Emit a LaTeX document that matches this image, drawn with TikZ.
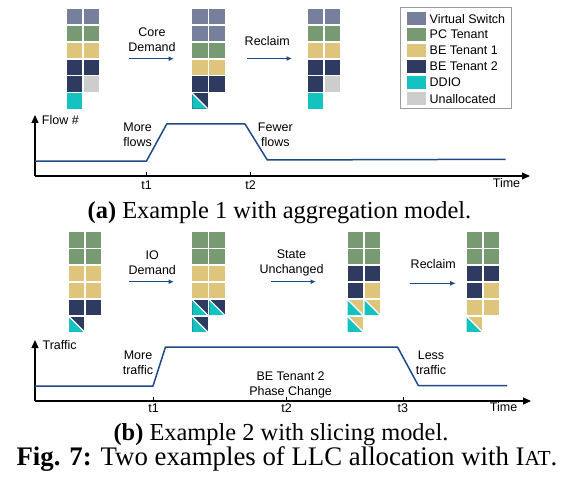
\documentclass[tikz,border=0pt]{standalone}
\usepackage{fontspec}
\setmainfont{Liberation Serif}
\setsansfont{Liberation Sans}
\usetikzlibrary{arrows.meta}
\definecolor{vs}{HTML}{767F9C}
\definecolor{pc}{HTML}{789A72}
\definecolor{beone}{HTML}{DFC57B}
\definecolor{betwo}{HTML}{2E3A5F}
\definecolor{ddio}{HTML}{14C3C0}
\definecolor{unal}{HTML}{CDCDCD}
\definecolor{curveblue}{HTML}{1E4A87}
\definecolor{legborder}{HTML}{9A9A9A}
\newcommand\cellC[3]{\fill[#3] ({#1*17},{#2*16.85}) rectangle ++(15.3,15.3);}
\newcommand\cellT[3]{\fill[#3] ({#1*17},{#2*16.85}) rectangle ++(15.3,15.3);
  \fill[ddio] ({#1*17},{#2*16.85}) -- ++(0,15.3) -- ++(15.3,0) -- cycle;
  \draw[white,line width=1.2pt] ({#1*17},{#2*16.85}) -- ++(15.3,15.3);}
\tikzset{
  lbl/.style={font=\sffamily\fontsize{12.5}{15}\selectfont, inner sep=0pt, align=center},
  captext/.style={font=\fontsize{24.4}{28}\selectfont, inner sep=0pt},
  figtext/.style={font=\fontsize{26.8}{30}\selectfont, inner sep=0pt},
  flowarrow/.style={curveblue, line width=1.3pt, -{Latex[length=5.5pt,width=5pt]}},
  axisline/.style={black, line width=1.2pt, -{Triangle[length=8pt,width=7pt]}},
  curveline/.style={curveblue, line width=1.5pt, line join=round},
  tickline/.style={black, line width=0.6pt},
  legbox/.style={draw=legborder, line width=0.8pt},
}
\begin{document}
\begin{tikzpicture}[x=1pt,y=-1pt]
\useasboundingbox (0,0) rectangle (562,484);
% ---------------- (a) stacks
\begin{scope}[shift={(66.7,9)}]
\cellC00{vs}\cellC10{vs}
\cellC01{pc}\cellC11{pc}
\cellC02{beone}\cellC12{beone}
\cellC03{betwo}\cellC13{betwo}
\cellC04{betwo}\cellC14{unal}
\cellC05{ddio}
\end{scope}
\begin{scope}[shift={(192.3,9)}]
\cellC00{vs}\cellC10{vs}
\cellC01{vs}\cellC11{vs}
\cellC02{pc}\cellC12{pc}
\cellC03{beone}\cellC13{beone}
\cellC04{betwo}\cellC14{betwo}
\cellT05{betwo}
\end{scope}
\begin{scope}[shift={(307.7,9)}]
\cellC00{vs}\cellC10{vs}
\cellC01{pc}\cellC11{pc}
\cellC02{beone}\cellC12{beone}
\cellC03{betwo}\cellC13{betwo}
\cellC04{betwo}\cellC14{unal}
\cellC05{ddio}
\end{scope}
% arrows (a)
\coordinate (a1s) at (129,58.7); \coordinate (a1e) at (174,58.7);
\coordinate (a2s) at (247,58.5); \coordinate (a2e) at (292,58.5);
\draw[flowarrow] (a1s) -- (a1e);
\draw[flowarrow] (a2s) -- (a2e);
\node[lbl] (coredemand) at (152,39.7) {Core\\Demand};
\node[lbl] (reclaima) at (267.3,41.3) {Reclaim};
% legend
\draw[legbox] (400,7) rectangle (511.7,108);
\foreach \c/\t [count=\i from 0] in {vs/Virtual Switch,pc/PC Tenant,beone/BE Tenant 1,betwo/BE Tenant 2,ddio/DDIO,unal/Unallocated}{
  \fill[\c] (407.3,{11.7+16*\i}) rectangle ++(18.4,13.8);
  \node[lbl,anchor=west] (leg\i) at (429.5,{18.6+16*\i}) {\t};
}
% graph (a)
\coordinate (oa) at (35,176);
\coordinate (ya) at (35,115);
\coordinate (xa) at (530,176);
\draw[axisline] (oa) -- (ya);
\draw[axisline] (oa) -- (xa);
\draw[curveline] (35,161) -- (146.5,161) -- (166.7,124) -- (245,124) -- (267.3,160) -- (505.7,159.3);
\coordinate (t1a) at (146.7,176); \coordinate (t2a) at (250.7,176);
\draw[tickline] (t1a) -- ++(0,-4.5);
\draw[tickline] (t2a) -- ++(0,-4.5);
\node[lbl] (t1la) at (146.7,185) {t1};
\node[lbl] (t2la) at (250.7,185) {t2};
\node[lbl] (timea) at (506.5,183) {Time};
\node[lbl,anchor=west] (flowno) at (41.7,120) {Flow \#};
\node[lbl] (moreflows) at (137.6,135) {More\\flows};
\node[lbl] (fewerflows) at (275.3,135) {Fewer\\flows};
\node[captext] (capa) at (279.5,213) {\textbf{(a)} Example 1 with aggregation model.};
% ---------------- (b) stacks
\begin{scope}[shift={(69,232.3)}]
\cellC00{pc}\cellC10{pc}
\cellC01{pc}\cellC11{pc}
\cellC02{beone}\cellC12{beone}
\cellC03{beone}\cellC13{beone}
\cellC04{betwo}\cellC14{betwo}
\cellT05{betwo}
\end{scope}
\begin{scope}[shift={(192.3,232.3)}]
\cellC00{pc}\cellC10{pc}
\cellC01{pc}\cellC11{pc}
\cellC02{beone}\cellC12{beone}
\cellC03{beone}\cellC13{beone}
\cellT04{betwo}\cellT14{betwo}
\cellT05{betwo}
\end{scope}
\begin{scope}[shift={(347.7,232.3)}]
\cellC00{pc}\cellC10{pc}
\cellC01{pc}\cellC11{pc}
\cellC02{betwo}\cellC12{betwo}
\cellC03{betwo}\cellC13{beone}
\cellT04{beone}\cellT14{beone}
\cellT05{beone}
\end{scope}
\begin{scope}[shift={(466.7,232.3)}]
\cellC00{pc}\cellC10{pc}
\cellC01{pc}\cellC11{pc}
\cellC02{betwo}\cellC12{betwo}
\cellC03{betwo}\cellC13{beone}
\cellC04{beone}\cellC14{beone}
\cellT05{beone}
\end{scope}
% arrows (b)
\coordinate (b1s) at (129,281.7); \coordinate (b1e) at (174,281.7);
\coordinate (b2s) at (271,281.7); \coordinate (b2e) at (316,281.7);
\coordinate (b3s) at (410,283.3); \coordinate (b3e) at (455.7,283.3);
\draw[flowarrow] (b1s) -- (b1e);
\draw[flowarrow] (b2s) -- (b2e);
\draw[flowarrow] (b3s) -- (b3e);
\node[lbl] (iodemand) at (152.3,263) {IO\\Demand};
\node[lbl] (stateunch) at (291.5,263) {State\\Unchanged};
\node[lbl] (reclaimb) at (433.3,264) {Reclaim};
% graph (b)
\coordinate (ob) at (35,401);
\coordinate (yb) at (35,340);
\coordinate (xb) at (531,401);
\draw[axisline] (ob) -- (yb);
\draw[axisline] (ob) -- (xb);
\draw[curveline] (35,386) -- (153,386) -- (165.5,347) -- (397.5,347) -- (418.3,385.5) -- (507,385.5);
\coordinate (t1b) at (153.6,401); \coordinate (t2b) at (286.7,401); \coordinate (t3b) at (402.9,401);
\draw[tickline] (t1b) -- ++(0,-4.5);
\draw[tickline] (t2b) -- ++(0,-4.5);
\draw[tickline] (t3b) -- ++(0,-4.5);
\node[lbl] (t1lb) at (153.6,408) {t1};
\node[lbl] (t2lb) at (286.7,408) {t2};
\node[lbl] (t3lb) at (402.9,408) {t3};
\node[lbl] (timeb) at (503.6,407) {Time};
\node[lbl,anchor=west] (traffic) at (42.4,345) {Traffic};
\node[lbl] (moretraffic) at (138,362.5) {More\\traffic};
\node[lbl] (lesstraffic) at (431,362.5) {Less\\traffic};
\node[lbl] (phase) at (290.6,384.5) {BE Tenant 2\\Phase Change};
\node[captext] (capb) at (281,435) {\textbf{(b)} Example 2 with slicing model.};
\node[figtext] (figcap) at (287,459) {\textbf{Fig. 7:} Two examples of LLC allocation with I{\fontsize{21.4}{24}\selectfont AT}.};
\end{tikzpicture}
\end{document}
